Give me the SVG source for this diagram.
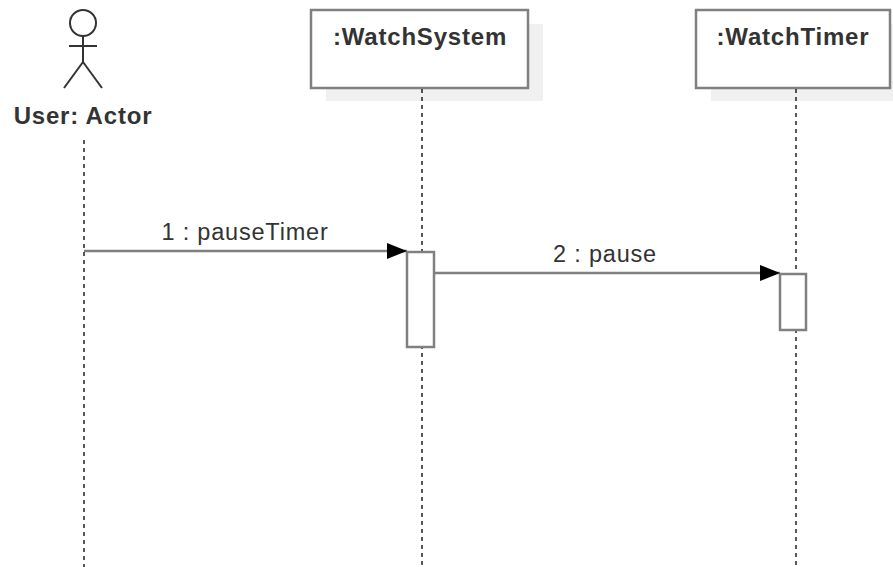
<svg xmlns="http://www.w3.org/2000/svg" width="893" height="567" viewBox="0 0 893 567">
<defs>
<style>
.box{fill:#fff;stroke:#808080;stroke-width:2.5}
.shadow{fill:#f0f0f0}
.life{stroke:#000;stroke-width:1.3;stroke-dasharray:4 4;fill:none}
.act{fill:#fff;stroke:#808080;stroke-width:2.5}
.msg{stroke:#808080;stroke-width:2.5;fill:none}
.title{font-family:"Liberation Sans",Arial,sans-serif;font-weight:bold;font-size:24px;letter-spacing:0.8px;fill:#333;text-anchor:middle}
.lbl{font-family:"Liberation Sans",Arial,sans-serif;font-size:23.5px;letter-spacing:0.8px;fill:#333;text-anchor:middle}
.fig{stroke:#333;stroke-width:2;fill:none}
</style>
<marker id="arrow" markerWidth="20" markerHeight="16" refX="20" refY="8" orient="auto" markerUnits="userSpaceOnUse" viewBox="0 0 20 16">
<path d="M0,0 L20,8 L0,16 Z" fill="#000"/>
</marker>
</defs>
<rect width="893" height="567" fill="#fff"/>
<g id="user">
<circle class="fig" cx="83" cy="23" r="13"/>
<line class="fig" x1="83" y1="36" x2="83" y2="62"/>
<line class="fig" x1="69" y1="46" x2="97" y2="46"/>
<line class="fig" x1="83" y1="62" x2="64" y2="88"/>
<line class="fig" x1="83" y1="62" x2="102" y2="88"/>
<text class="title" x="83" y="124">User: Actor</text>
<line class="life" x1="84" y1="140" x2="84" y2="567"/>
</g>
<g id="watchsystem">
<rect class="shadow" x="326" y="24" width="217" height="77"/>
<rect class="box" x="311" y="10" width="217" height="78"/>
<text class="title" x="420" y="45">:WatchSystem</text>
<line class="life" x1="422" y1="89" x2="422" y2="567"/>
<rect class="act" x="407" y="252" width="27" height="95"/>
</g>
<g id="watchtimer">
<rect class="shadow" x="711" y="24" width="182" height="77"/>
<rect class="box" x="696" y="10" width="194" height="78"/>
<text class="title" x="793" y="45">:WatchTimer</text>
<line class="life" x1="796" y1="89" x2="796" y2="567"/>
<rect class="act" x="780" y="274" width="26" height="56"/>
</g>
<g id="connectors">
<line class="msg" x1="84" y1="251" x2="407" y2="251" marker-end="url(#arrow)"/>
<text class="lbl" x="245" y="240">1 : pauseTimer</text>
<line class="msg" x1="434" y1="273" x2="780" y2="273" marker-end="url(#arrow)"/>
<text class="lbl" x="605" y="262">2 : pause</text>
</g>
</svg>
